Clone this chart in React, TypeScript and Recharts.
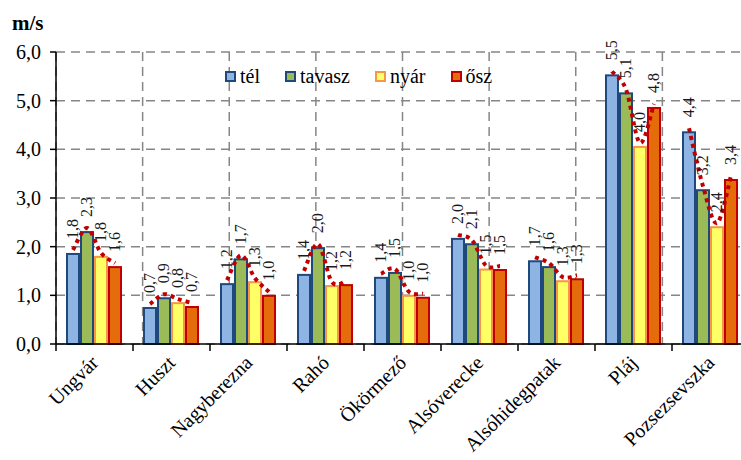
import React from 'react';
import { ComposedChart, Bar, XAxis, YAxis, CartesianGrid, LabelList } from 'recharts';

const categories = ['Ungvár', 'Huszt', 'Nagyberezna', 'Rahó', 'Ökörmező', 'Alsóverecke', 'Alsóhidegpatak', 'Pláj', 'Pozsezsevszka'];
const tel = [1.85, 0.74, 1.23, 1.42, 1.36, 2.16, 1.70, 5.52, 4.35];
const tavasz = [2.30, 0.94, 1.74, 1.97, 1.46, 2.05, 1.58, 5.15, 3.16];
const nyar = [1.79, 0.84, 1.27, 1.19, 0.99, 1.53, 1.29, 4.05, 2.40];
const osz = [1.58, 0.76, 0.99, 1.21, 0.95, 1.52, 1.33, 4.85, 3.37];

const telLabels = ['1,8', '0,7', '1,2', '1,4', '1,4', '2,0', '1,7', '5,5', '4,4'];
const tavaszLabels = ['2,3', '0,9', '1,7', '2,0', '1,5', '2,1', '1,6', '5,1', '3,2'];
const nyarLabels = ['1,8', '0,8', '1,3', '1,2', '1,0', '1,5', '1,3', '4,0', '2,4'];
const oszLabels = ['1,6', '0,7', '1,0', '1,2', '1,0', '1,5', '1,3', '4,8', '3,4'];

const yTicks = [0, 1, 2, 3, 4, 5, 6];
const boundaryTicks = [0, 1, 2, 3, 4, 5, 6, 7, 8, 9];

const FONT = "'Liberation Serif', 'Times New Roman', serif";
const BAR_GAP = 2;
const CHART_W = 749;
const Y_W = 56;

const series = [
  { key: 'tel', name: 'tél', fill: '#8DB4E2', stroke: '#1F497D' },
  { key: 'tavasz', name: 'tavasz', fill: '#9BBB59', stroke: '#1F497D' },
  { key: 'nyar', name: 'nyár', fill: '#FFFF66', stroke: '#F79646' },
  { key: 'osz', name: 'ősz', fill: '#E46C0A', stroke: '#C00000' },
];

const data = categories.map((name, i) => ({
  name,
  tel: tel[i],
  tavasz: tavasz[i],
  nyar: nyar[i],
  osz: osz[i],
  telL: telLabels[i],
  tavaszL: tavaszLabels[i],
  nyarL: nyarLabels[i],
  oszL: oszLabels[i],
}));

function smoothPath(pts: number[][]) {
  let d = `M${pts[0][0]},${pts[0][1]}`;
  for (let i = 0; i < pts.length - 1; i++) {
    const p0 = pts[i - 1] || pts[i];
    const p1 = pts[i];
    const p2 = pts[i + 1];
    const p3 = pts[i + 2] || p2;
    const c1x = p1[0] + (p2[0] - p0[0]) / 6;
    const c1y = p1[1] + (p2[1] - p0[1]) / 6;
    const c2x = p2[0] - (p3[0] - p1[0]) / 6;
    const c2y = p2[1] - (p3[1] - p1[1]) / 6;
    d += ` C${c1x},${c1y} ${c2x},${c2y} ${p2[0]},${p2[1]}`;
  }
  return d;
}

const OszShape = (props: any) => {
  const { x, y, width, height, payload, fill, stroke } = props;
  const value = payload.osz;
  const base = y + height;
  const ppu = height / value;
  const vals = [payload.tel, payload.tavasz, payload.nyar, payload.osz];
  const pts = vals.map((v, k) => [
    x - (3 - k) * (width + BAR_GAP) + width / 2,
    base - v * ppu - 4,
  ]);
  return (
    <g>
      <rect x={x} y={y} width={width} height={height} fill={fill} stroke={stroke} strokeWidth={2} />
      <path d={smoothPath(pts)} fill="none" stroke="#C00000" strokeWidth={4} strokeDasharray="4 4" />
    </g>
  );
};

const PlainShape = (props: any) => {
  const { x, y, width, height, fill, stroke } = props;
  return <rect x={x} y={y} width={width} height={height} fill={fill} stroke={stroke} strokeWidth={2} />;
};

const RotLabel = (props: any) => {
  const { x, y, width, value } = props;
  const ax = x + width / 2 + 5;
  const ay = y - 15;
  return (
    <text x={ax} y={ay} transform={`rotate(-90 ${ax} ${ay})`} textAnchor="start" fontFamily={FONT} fontSize={16} fill="#1a1a1a">
      {value}
    </text>
  );
};

const CatTick = (props: any) => {
  const { x, y, payload, index } = props;
  const half = (CHART_W - Y_W) / categories.length / 2;
  const ax = x + 5;
  const ay = y + 20;
  return (
    <g>
      <path d={`M${x - half},${y}V${y + 7}`} stroke="#000" strokeWidth={1.5} fill="none" />
      {index === categories.length - 1 ? (
        <path d={`M${x + half},${y}V${y + 7}`} stroke="#000" strokeWidth={1.5} fill="none" />
      ) : null}
      <text x={ax} y={ay} transform={`rotate(-45 ${ax} ${ay})`} textAnchor="end" fontFamily={FONT} fontSize={20} fill="#000">
        {payload.value}
      </text>
    </g>
  );
};

const LeftTick = (props: any) => {
  const { x, y, payload } = props;
  return (
    <text x={x} y={y} dy={7} textAnchor="end" fontFamily={FONT} fontSize={20} fill="#000">
      {Number(payload.value).toFixed(1).replace('.', ',')}
    </text>
  );
};

const LegendBox = () => (
  <div style={{ position: 'absolute', left: 225, top: 64, display: 'flex', alignItems: 'center', fontFamily: FONT, fontSize: 20, lineHeight: '24px', color: '#000' }}>
    {series.map((s) => (
      <div key={s.key} style={{ display: 'flex', alignItems: 'center', marginRight: 25 }}>
        <span style={{ display: 'inline-block', width: 11, height: 11, boxSizing: 'border-box', border: `2px solid ${s.stroke}`, background: s.fill, marginRight: 4 }} />
        <span>{s.name}</span>
      </div>
    ))}
  </div>
);

export default function App() {
  return (
    <div style={{ position: 'absolute', left: 0, top: 0, width: 741, height: 460, overflow: 'hidden', background: '#fff' }}>
      <svg style={{ position: 'absolute', left: 0, top: 0 }} width={100} height={40}>
        <text x={12} y={30} fontFamily={FONT} fontSize={21} fontWeight="bold" fill="#000">m/s</text>
      </svg>
      <div style={{ position: 'absolute', left: 0, top: 0 }}>
        <ComposedChart
          width={CHART_W}
          height={460}
          data={data}
          margin={{ top: 52, right: 0, left: 0, bottom: 0 }}
          barCategoryGap={11}
          barGap={BAR_GAP}
        >
          <CartesianGrid xAxisId="grid" stroke="#868686" strokeWidth={1.5} strokeDasharray="9 6" vertical horizontal />
          <XAxis
            xAxisId="cat"
            dataKey="name"
            type="category"
            interval={0}
            height={116}
            tickSize={0}
            tickMargin={0}
            tickLine={false}
            tick={<CatTick />}
            axisLine={{ stroke: '#000', strokeWidth: 1.5 }}
          />
          <XAxis xAxisId="grid" type="number" domain={[0, 9]} ticks={boundaryTicks} interval={0} height={0} hide />
          <YAxis
            domain={[0, 6]}
            ticks={yTicks}
            width={Y_W}
            interval={0}
            tickSize={6}
            tickMargin={9}
            tick={<LeftTick />}
            tickLine={{ stroke: '#000', strokeWidth: 1.5 }}
            axisLine={{ stroke: '#000', strokeWidth: 1.5 }}
          />
          {series.map((s) => (
            <Bar
              key={s.key}
              xAxisId="cat"
              dataKey={s.key}
              name={s.name}
              fill={s.fill}
              stroke={s.stroke}
              isAnimationActive={false}
              shape={s.key === 'osz' ? <OszShape /> : <PlainShape />}
            >
              <LabelList dataKey={`${s.key}L`} content={<RotLabel />} />
            </Bar>
          ))}
        </ComposedChart>
      </div>
      <LegendBox />
    </div>
  );
}
